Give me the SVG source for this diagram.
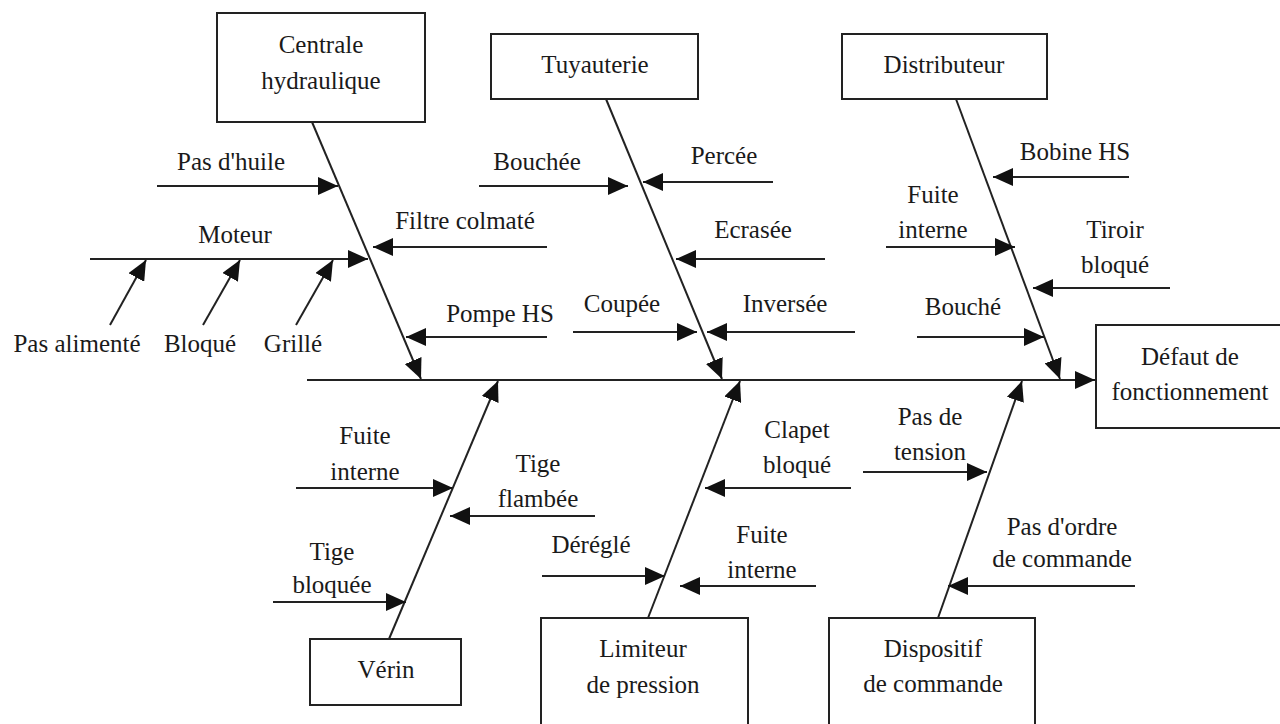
<svg xmlns="http://www.w3.org/2000/svg" width="1280" height="724" viewBox="0 0 1280 724">
<style>
text{font-family:"Liberation Serif","Times New Roman",serif;font-size:25px;fill:#1a1a1a;text-anchor:middle}
.box{fill:#fff;stroke:#222;stroke-width:2}
.ln{stroke:#222;stroke-width:2;fill:none}
.ar{stroke:#222;stroke-width:2;fill:none;marker-end:url(#ah)}
</style>
<defs>
<marker id="ah" markerUnits="userSpaceOnUse" markerWidth="20" markerHeight="18" refX="20" refY="9" orient="auto">
<path d="M0,0 L20,9 L0,18 z" fill="#111"/>
</marker>
</defs>
<rect width="1280" height="724" fill="#fff"/>
<g id="connectors">
<line class="ar" x1="307" y1="380" x2="1095" y2="380"/>
<line class="ar" x1="312" y1="122" x2="421" y2="379"/>
<line class="ar" x1="606" y1="99" x2="722" y2="379"/>
<line class="ar" x1="956" y1="99" x2="1060" y2="379"/>
<line class="ar" x1="389" y1="639" x2="498" y2="381"/>
<line class="ar" x1="648" y1="618" x2="740" y2="381"/>
<line class="ar" x1="938" y1="618" x2="1022" y2="381"/>
<line class="ar" x1="157" y1="186" x2="338" y2="186"/>
<line class="ar" x1="90" y1="259" x2="368" y2="259"/>
<line class="ar" x1="110" y1="325" x2="146" y2="260"/>
<line class="ar" x1="203" y1="325" x2="240" y2="260"/>
<line class="ar" x1="296" y1="325" x2="333" y2="260"/>
<line class="ar" x1="547" y1="247" x2="373" y2="247"/>
<line class="ar" x1="547" y1="337" x2="406" y2="337"/>
<line class="ar" x1="479" y1="186" x2="628" y2="186"/>
<line class="ar" x1="773" y1="182" x2="643" y2="182"/>
<line class="ar" x1="825" y1="259" x2="676" y2="259"/>
<line class="ar" x1="573" y1="332" x2="697" y2="332"/>
<line class="ar" x1="855" y1="332" x2="707" y2="332"/>
<line class="ar" x1="1129" y1="177" x2="993" y2="177"/>
<line class="ar" x1="886" y1="247" x2="1015" y2="247"/>
<line class="ar" x1="1170" y1="288" x2="1033" y2="288"/>
<line class="ar" x1="917" y1="337" x2="1044" y2="337"/>
<line class="ar" x1="296" y1="488" x2="453" y2="488"/>
<line class="ar" x1="595" y1="516" x2="450" y2="516"/>
<line class="ar" x1="273" y1="602" x2="406" y2="602"/>
<line class="ar" x1="851" y1="488" x2="705" y2="488"/>
<line class="ar" x1="542" y1="576" x2="665" y2="576"/>
<line class="ar" x1="816" y1="586" x2="680" y2="586"/>
<line class="ar" x1="863" y1="472" x2="987" y2="472"/>
<line class="ar" x1="1135" y1="586" x2="948" y2="586"/>
</g>
<g id="labels">
<text x="231" y="170">Pas d'huile</text>
<text x="235" y="243">Moteur</text>
<text x="77" y="352">Pas alimenté</text>
<text x="200" y="352">Bloqué</text>
<text x="293" y="352">Grillé</text>
<text x="465" y="229">Filtre colmaté</text>
<text x="500" y="322">Pompe HS</text>
<text x="537" y="170">Bouchée</text>
<text x="724" y="164">Percée</text>
<text x="753" y="238">Ecrasée</text>
<text x="622" y="312">Coupée</text>
<text x="785" y="312">Inversée</text>
<text x="1075" y="160">Bobine HS</text>
<text x="933" y="203">Fuite</text>
<text x="933" y="238">interne</text>
<text x="1115" y="238">Tiroir</text>
<text x="1115" y="273">bloqué</text>
<text x="963" y="315">Bouché</text>
<text x="365" y="444">Fuite</text>
<text x="365" y="480">interne</text>
<text x="538" y="472">Tige</text>
<text x="538" y="507">flambée</text>
<text x="332" y="560">Tige</text>
<text x="332" y="593">bloquée</text>
<text x="797" y="438">Clapet</text>
<text x="797" y="473">bloqué</text>
<text x="591" y="553">Déréglé</text>
<text x="762" y="543">Fuite</text>
<text x="762" y="578">interne</text>
<text x="930" y="425">Pas de</text>
<text x="930" y="460">tension</text>
<text x="1062" y="535">Pas d'ordre</text>
<text x="1062" y="567">de commande</text>
</g>
<g id="centrale">
<rect class="box" x="217" y="13" width="208" height="109"/>
<text x="321" y="53">Centrale</text>
<text x="321" y="89">hydraulique</text>
</g>
<g id="tuyauterie">
<rect class="box" x="491" y="34" width="207" height="65"/>
<text x="595" y="73">Tuyauterie</text>
</g>
<g id="distributeur">
<rect class="box" x="842" y="34" width="205" height="65"/>
<text x="944" y="73">Distributeur</text>
</g>
<g id="defaut">
<rect class="box" x="1096" y="325" width="190" height="103"/>
<text x="1190" y="365">Défaut de</text>
<text x="1190" y="400">fonctionnement</text>
</g>
<g id="verin">
<rect class="box" x="310" y="639" width="151" height="66"/>
<text x="386" y="678">Vérin</text>
</g>
<g id="limiteur">
<rect class="box" x="541" y="618" width="207" height="115"/>
<text x="643" y="657">Limiteur</text>
<text x="643" y="693">de pression</text>
</g>
<g id="dispositif">
<rect class="box" x="829" y="618" width="206" height="115"/>
<text x="933" y="657">Dispositif</text>
<text x="933" y="692">de commande</text>
</g>
</svg>
